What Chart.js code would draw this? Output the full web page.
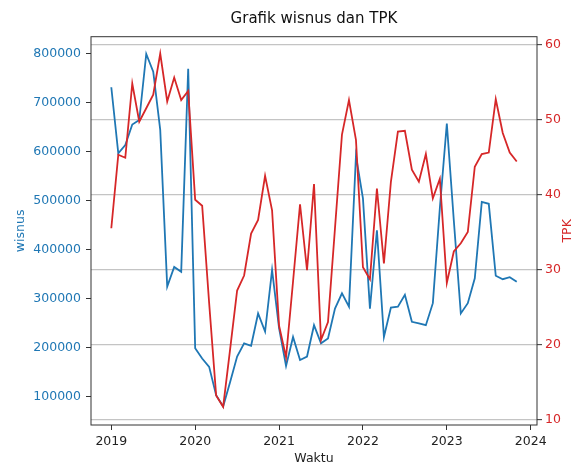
<!DOCTYPE html>
<html lang="id">
<head>
<meta charset="UTF-8">
<title>Grafik wisnus dan TPK</title>
<script src="https://cdn.jsdelivr.net/npm/chart.js"></script>
<style>
  body { margin: 0; background: #fff; }
  canvas { display: block; }
</style>
</head>
<body>
<canvas id="chart" width="580" height="466"></canvas>
<script>
const months = [
  '2019-01','2019-02','2019-03','2019-04','2019-05','2019-06','2019-07','2019-08','2019-09','2019-10','2019-11','2019-12',
  '2020-01','2020-02','2020-03','2020-04','2020-05','2020-06','2020-07','2020-08','2020-09','2020-10','2020-11','2020-12',
  '2021-01','2021-02','2021-03','2021-04','2021-05','2021-06','2021-07','2021-08','2021-09','2021-10','2021-11','2021-12',
  '2022-01','2022-02','2022-03','2022-04','2022-05','2022-06','2022-07','2022-08','2022-09','2022-10','2022-11','2022-12',
  '2023-01','2023-02','2023-03','2023-04','2023-05','2023-06','2023-07','2023-08','2023-09','2023-10','2023-11'
];
const wisnus = [
  732000, 597000, 614000, 656000, 665000, 800000, 764000, 645000, 325000, 365000, 355000, 770000,
  199000, 178000, 161000, 103000, 80000, 130000, 182000, 209000, 204000, 270000, 233000, 359000,
  240000, 163000, 222000, 175000, 182000, 246000, 209000, 219000, 280000, 311000, 284000, 592000,
  505000, 280000, 440000, 222000, 282000, 284000, 308000, 253000, 250000, 246000, 291000, 485000,
  658000, 460000, 270000, 291000, 342000, 498000, 494000, 347000, 340000, 344000, 335000
];
const tpk = [
  35.5, 45.3, 44.9, 54.8, 49.7, 51.5, 53.3, 58.8, 52.4, 55.6, 52.6, 53.8,
  39.3, 38.5, 25.5, 13.2, 11.7, 19.4, 27.2, 29.2, 34.8, 36.6, 42.5, 37.9,
  22.5, 18.3, 28.4, 38.7, 29.9, 41.4, 20.6, 23.0, 35.5, 48.0, 52.6, 47.3,
  30.3, 28.7, 40.8, 30.8, 41.7, 48.4, 48.5, 43.3, 41.7, 45.4, 39.5, 42.1,
  28.2, 32.4, 33.5, 35.0, 43.7, 45.4, 45.6, 52.7, 48.2, 45.6, 44.4
];
const yearTicks = [2019, 2020, 2021, 2022, 2023, 2024];
const wisnusTicks = [100000, 200000, 300000, 400000, 500000, 600000, 700000, 800000];
const tpkTicks = [10, 20, 30, 40, 50, 60];

// 'YYYY-MM' -> fractional year for the linear x axis
const toYear = s => {
  const [y, m] = s.split('-').map(Number);
  return y + (m - 1) / 12;
};

const font = { family: 'DejaVu Sans', size: 12.5 };
const BLUE = '#1f77b4';
const RED = '#d62728';

const framePlugin = {
  id: 'frame',
  afterDraw(chart) {
    const { ctx, chartArea: a } = chart;
    ctx.save();
    ctx.strokeStyle = '#333';
    ctx.lineWidth = 1;
    ctx.strokeRect(a.left, a.top, a.right - a.left, a.bottom - a.top);

    ctx.fillStyle = '#111';
    ctx.font = '15px "DejaVu Sans"';
    ctx.textAlign = 'center';
    ctx.textBaseline = 'middle';
    ctx.fillText('Grafik wisnus dan TPK', (a.left + a.right) / 2, 19);

    ctx.fillStyle = RED;
    ctx.font = '12.5px "DejaVu Sans"';
    ctx.translate(568, (a.top + a.bottom) / 2);
    ctx.rotate(-Math.PI / 2);
    ctx.fillText('TPK', 0, 0);
    ctx.restore();
  }
};

const setTicks = list => scale => { scale.ticks = list.map(v => ({ value: v })); };

new Chart(document.getElementById('chart'), {
  type: 'line',
  data: {
    datasets: [
      {
        label: 'TPK',
        data: months.map((m, i) => ({ x: toYear(m), y: tpk[i] })),
        yAxisID: 'y2',
        borderColor: RED,
        borderWidth: 1.8,
        pointRadius: 0,
        tension: 0
      },
      {
        label: 'wisnus',
        data: months.map((m, i) => ({ x: toYear(m), y: wisnus[i] })),
        yAxisID: 'y',
        borderColor: BLUE,
        borderWidth: 1.8,
        pointRadius: 0,
        tension: 0
      }
    ]
  },
  options: {
    responsive: false,
    devicePixelRatio: 1,
    animation: false,
    layout: { padding: { top: 36.7, left: 0, right: 0, bottom: 0 } },
    plugins: {
      legend: { display: false },
      tooltip: { enabled: false }
    },
    scales: {
      x: {
        type: 'linear',
        position: 'bottom',
        min: 2018.758,
        max: 2024.075,
        afterBuildTicks: setTicks(yearTicks),
        afterFit: s => { s.height = 41; },
        ticks: { callback: v => String(v), font, color: '#222', padding: 4, maxRotation: 0, autoSkip: false },
        grid: { drawOnChartArea: false, tickLength: 5, tickColor: '#333' },
        border: { display: false },
        title: { display: true, text: 'Waktu', font, color: '#222', padding: { top: 0, bottom: 0 } }
      },
      y: {
        type: 'linear',
        position: 'left',
        min: 42200,
        max: 835300,
        afterBuildTicks: setTicks(wisnusTicks),
        afterFit: s => { s.width = 91; },
        ticks: { callback: v => String(v), font, color: BLUE, padding: 5 },
        grid: { drawOnChartArea: false, tickLength: 5, tickColor: '#333' },
        border: { display: false },
        title: { display: true, text: 'wisnus', font, color: BLUE, padding: { top: 13, bottom: 0 } }
      },
      y2: {
        type: 'linear',
        position: 'right',
        min: 9.27,
        max: 61.04,
        afterBuildTicks: setTicks(tpkTicks),
        afterFit: s => { s.width = 43; },
        ticks: { callback: v => String(v), font, color: RED, padding: 3 },
        grid: { color: '#c4c4c4', lineWidth: 1.3, tickLength: 5, tickColor: '#333', tickWidth: 1 },
        border: { display: false }
      }
    }
  },
  plugins: [framePlugin]
});
</script>
</body>
</html>
